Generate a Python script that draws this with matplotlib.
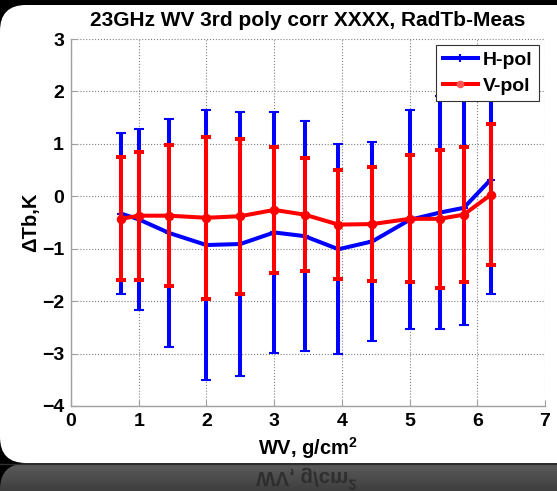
import numpy as np
import matplotlib
matplotlib.use("Agg")
import matplotlib.pyplot as plt
from matplotlib.patches import FancyBboxPatch, PathPatch
from matplotlib.textpath import TextPath
from matplotlib.font_manager import FontProperties
from matplotlib.colors import LinearSegmentedColormap
from matplotlib.transforms import Affine2D
from matplotlib.lines import Line2D

plt.rcParams["font.family"] = ["Liberation Sans", "DejaVu Sans"]
plt.rcParams["font.weight"] = "bold"
plt.rcParams["mathtext.fontset"] = "custom"
plt.rcParams["mathtext.default"] = "bf"
plt.rcParams["mathtext.bf"] = "Liberation Sans:bold"

# Water-vapour bins and brightness-temperature residuals (model - measured)
wv = [0.74, 1.0, 1.45, 2.0, 2.5, 3.0, 3.45, 3.95, 4.45, 5.0, 5.45, 5.8, 6.2]
h_mean = [-0.33, -0.44, -0.70, -0.93, -0.91, -0.69, -0.76, -1.01, -0.86, -0.45, -0.31, -0.22, 0.32]
h_err = [1.54, 1.73, 2.17, 2.57, 2.51, 2.29, 2.19, 2.00, 1.90, 2.09, 2.23, 2.24, 2.19]
v_mean = [-0.43, -0.37, -0.37, -0.41, -0.38, -0.26, -0.35, -0.54, -0.53, -0.43, -0.43, -0.35, 0.03]
v_err = [1.17, 1.22, 1.34, 1.54, 1.48, 1.20, 1.08, 1.04, 1.09, 1.21, 1.32, 1.29, 1.35]

title = "23GHz WV 3rd poly corr XXXX, RadTb-Meas"
xlabel = "WV, g/cm$^2$"
ylabel = "\u0394Tb,K"
series_names = ["H-pol", "V-pol"]
xticks = [0, 1, 2, 3, 4, 5, 6, 7]
yticks = [-4, -3, -2, -1, 0, 1, 2, 3]

W, H = 557, 491
fig = plt.figure(figsize=(W / 100, H / 100), dpi=100, facecolor="black")

# ---- slide-style backdrop: white rounded panel with a floor reflection ----
bg = fig.add_axes([0, 0, 1, 1], zorder=0)
bg.axis("off")
panel = FancyBboxPatch((0, 5), 620, 458, boxstyle="round,pad=0,rounding_size=26",
                       fc="white", ec="none")
bg.add_patch(panel)

refl_cmap = LinearSegmentedColormap.from_list("refl", ["#5c5c5c", "#3e3e3e"])
grad = np.linspace(0, 1, 64)[:, None]
im = bg.imshow(grad, extent=(0, 620, 491, 463), cmap=refl_cmap, aspect="auto",
               interpolation="bilinear")
refl_clip = FancyBboxPatch((0, 463.5), 620, 458, boxstyle="round,pad=0,rounding_size=26",
                           fc="none", ec="none", transform=bg.transData)
bg.add_patch(refl_clip)
im.set_clip_path(refl_clip)
bg.plot([0, W], [463.5, 463.5], color="#2e2e2e", lw=1)

# mirrored axis caption in the reflection
tp = TextPath((0, 0), xlabel, size=20.5,
              prop=FontProperties(family="Liberation Sans", weight="bold"))
ext = tp.get_extents()
tp = tp.transformed(Affine2D().translate(306 - (ext.x0 + ext.x1) / 2, 472))
bg.add_patch(PathPatch(tp, fc="#2a2a2a", ec="none", alpha=0.85))
bg.set_xlim(0, W)
bg.set_ylim(H, 0)

# ---- main plot ----
ax = fig.add_axes([71 / W, 85 / H, 474 / W, 367 / H], zorder=2)
ax.set_facecolor("white")

ax.errorbar(wv, h_mean, yerr=h_err, color="#0000ff", lw=2.9, elinewidth=2.9,
            capsize=3.6, capthick=2.9, marker="+", ms=6, mew=1.5, zorder=3)
ax.errorbar(wv, v_mean, yerr=v_err, color="#ff0000", lw=2.9, elinewidth=2.9,
            capsize=3.6, capthick=2.9, marker="o", ms=5.8, zorder=4)

ax.set_xlim(0, 7)
ax.set_ylim(-4, 3)
ax.set_xticks(xticks)
ax.set_yticks(yticks)
ax.grid(True, ls=":", color="#808080", lw=0.8)
ax.set_axisbelow(True)
for s in ("top", "right"):
    ax.spines[s].set_visible(False)
for s in ("left", "bottom"):
    ax.spines[s].set_color("#a0a0a0")
    ax.spines[s].set_linewidth(1.0)
ax.tick_params(direction="in", length=4, color="#a0a0a0", labelsize=14,
               labelcolor="black", pad=5)

ax.set_title(title, fontsize=15, fontweight="bold", pad=9)
ax.set_xlabel(xlabel, fontsize=14.5, fontweight="bold", labelpad=4)
ax.set_ylabel(ylabel, fontsize=14.5, fontweight="bold", labelpad=1)

handles = [
    Line2D([], [], color="#0000ff", lw=2.9, marker="|", ms=6, mew=1.5),
    Line2D([], [], color="#ff0000", lw=2.9, marker="o", ms=4.5, mfc="#ff5555",
           mec="#ff5555"),
]
leg = ax.legend(handles, series_names, loc="upper right",
                prop=FontProperties(family="Liberation Sans", weight="bold", size=14),
                fancybox=False, edgecolor="#333333", framealpha=1,
                borderaxespad=0.3, handlelength=1.8, borderpad=0.35,
                labelspacing=0.4, handletextpad=0.25, numpoints=1)
leg.get_frame().set_linewidth(0.8)
leg.set_zorder(10)

fig.savefig("out.png", dpi=100, facecolor="black")
